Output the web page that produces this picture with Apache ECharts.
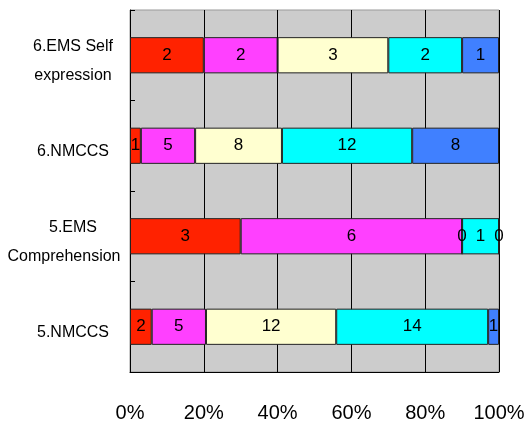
<!DOCTYPE html>
<html><head><meta charset="utf-8">
<script src="https://cdn.jsdelivr.net/npm/echarts@6/dist/echarts.min.js"></script>
<style>html,body{margin:0;padding:0;background:#fff}#c{width:524px;height:427px}</style>
</head><body><div id="c"></div>
<script>
const categories = ['5.NMCCS', '5.EMS\nComprehension', '6.NMCCS', '6.EMS Self\nexpression'];
const s1 = [2, 3, 1, 2];
const s2 = [5, 6, 5, 2];
const s3 = [12, 0, 8, 3];
const s4 = [14, 1, 12, 2];
const s5 = [1, 0, 8, 1];
const seriesData = [s1, s2, s3, s4, s5];
const colors = ['#ff2200', '#ff40ff', '#ffffd0', '#00ffff', '#4080ff'];
const tickLabels = ['0%', '20%', '40%', '60%', '80%', '100%'];

const totals = categories.map((c, i) => seriesData.reduce((a, s) => a + s[i], 0));
const FONT = '"Liberation Sans", Arial, sans-serif';

const chart = echarts.init(document.getElementById('c'));
chart.setOption({
  animation: false,
  grid: { left: 130, right: 25, top: 10, bottom: 55, outerBoundsMode: 'none', containLabel: false, show: true, backgroundColor: '#cccccc', borderColor: '#999999', borderWidth: 1 },
  xAxis: {
    type: 'value', min: 0, max: 100, interval: 20,
    axisLine: { show: true, lineStyle: { color: '#000', width: 1 } },
    axisTick: { show: false },
    splitLine: { show: true, lineStyle: { color: '#000', width: 1 } },
    axisLabel: { margin: 31, fontFamily: FONT, fontSize: 20, color: '#000',
      formatter: v => tickLabels[Math.round(v / 20)] }
  },
  yAxis: {
    type: 'category', data: categories,
    axisLine: { show: true, lineStyle: { color: '#000', width: 1 } },
    axisTick: { show: true, inside: true, length: 5, lineStyle: { color: '#000' } },
    axisLabel: {
      margin: 57, align: 'center', color: '#000', fontFamily: FONT, fontSize: 16,
      formatter: v => '{sp| }\n' + v.split('\n').map(l => (l.length > 12 ? '{c|' : '{t|') + l + '}').join('\n'),
      rich: {
        sp: { lineHeight: 12, fontSize: 4, fontFamily: FONT },
        t: { lineHeight: 29, fontSize: 16, fontFamily: FONT, color: '#000' },
        c: { lineHeight: 29, fontSize: 16, fontFamily: FONT, color: '#000', padding: [0, 18, 0, 0] }
      }
    }
  },
  series: seriesData.map((s, k) => ({
    type: 'bar', stack: 'all', barWidth: '40%',
    data: s.map((v, i) => ({ value: v / totals[i] * 100, raw: v })),
    itemStyle: { color: colors[k], borderColor: '#222', borderWidth: 1 },
    label: { show: true, position: 'inside', fontFamily: FONT, fontSize: 17, color: '#000',
      formatter: p => String(p.data.raw) }
  }))
});
</script></body></html>
